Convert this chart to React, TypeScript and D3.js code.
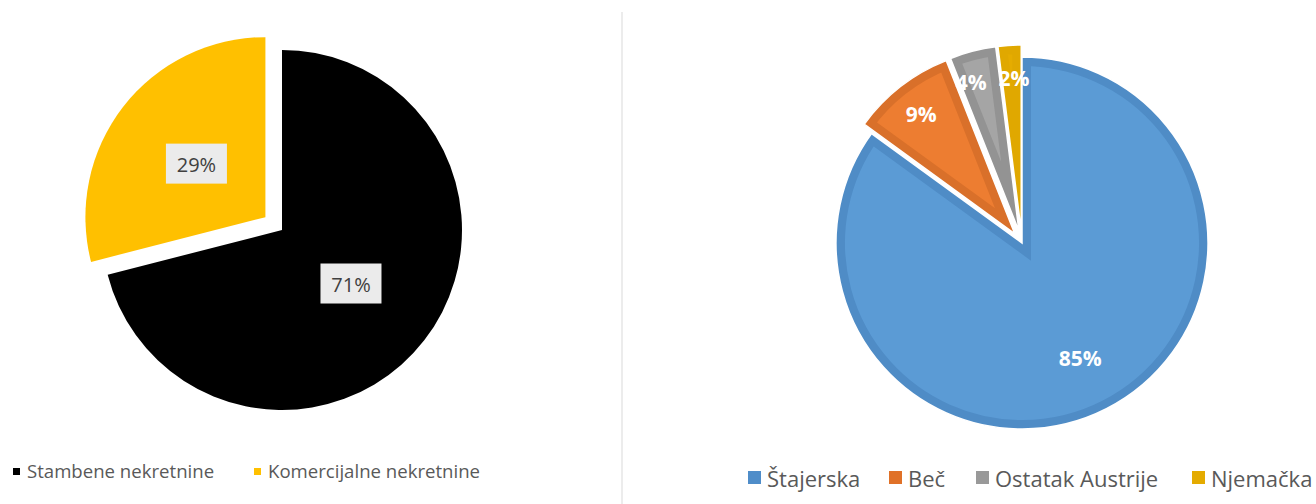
import React from "react";
import * as d3 from "d3";

const leftCategories = ["Stambene nekretnine", "Komercijalne nekretnine"];
const leftValues = [71, 29];
const leftColors = ["#000000", "#ffc000"];
const leftExplode = [0, 21];

const rightCategories = ["Štajerska", "Beč", "Ostatak Austrije", "Njemačka"];
const rightValues = [85, 9, 4, 2];
const rightColors = ["#5b9bd5", "#ed7d31", "#a5a5a5", "#e5ac00"];
const rightBorders = ["#4f8cc6", "#d9702a", "#939393", "#e0a800"];
const rightLegendColors = ["#4f8dc9", "#e07128", "#999999", "#e4ab00"];
const rightExplode = [0, 12, 12, 12];

const W = 1316;
const H = 504;
const FONT = "'Open Sans', 'Noto Sans', sans-serif";

function LeftPie() {
  const cx = 282, cy = 230, r = 180;
  const pie = d3.pie<number>().sort(null).value((d) => d);
  const arcs = pie(leftValues);
  const arc = d3.arc<d3.PieArcDatum<number>>().innerRadius(0).outerRadius(r);
  const labelR = r * 0.485;
  return (
    <g>
      {arcs.map((a, i) => {
        const mid = (a.startAngle + a.endAngle) / 2;
        const dx = Math.sin(mid) * leftExplode[i];
        const dy = -Math.cos(mid) * leftExplode[i];
        return (
          <path key={i} d={arc(a) || ""} fill={leftColors[i]} transform={`translate(${cx + dx},${cy + dy})`} />
        );
      })}
      {arcs.map((a, i) => {
        const mid = (a.startAngle + a.endAngle) / 2;
        const rr = labelR + leftExplode[i];
        const x = cx + Math.sin(mid) * rr;
        const y = cy - Math.cos(mid) * rr;
        return (
          <g key={"l" + i}>
            <rect x={x - 30.5} y={y - 20} width={61} height={40} fill="#ebebeb" />
            <text x={x} y={y + 1} textAnchor="middle" dominantBaseline="central" fontFamily={FONT} fontSize={20} fill="#404040">
              {leftValues[i] + "%"}
            </text>
          </g>
        );
      })}
    </g>
  );
}

function RightPie() {
  const cx = 1022, cy = 243, r = 186;
  const pie = d3.pie<number>().sort(null).value((d) => d);
  const arcs = pie(rightValues);
  const arc = d3.arc<d3.PieArcDatum<number>>().innerRadius(0).outerRadius(r);
  const labelFactor = [0.69, 0.82, 0.85, 0.83];
  const labelAngleShift = [0, 0, -3, 0.8];
  return (
    <g>
      <defs>
        {arcs.map((a, i) => (
          <clipPath id={"rc" + i} key={i}>
            <path d={arc(a) || ""} />
          </clipPath>
        ))}
      </defs>
      {arcs.map((a, i) => {
        const mid = (a.startAngle + a.endAngle) / 2;
        const dx = Math.sin(mid) * rightExplode[i];
        const dy = -Math.cos(mid) * rightExplode[i];
        return (
          <g key={i} transform={`translate(${cx + dx},${cy + dy})`}>
            <path
              d={arc(a) || ""}
              fill={rightColors[i]}
              stroke={rightBorders[i]}
              strokeWidth={18}
              clipPath={`url(#rc${i})`}
            />
            <path d={arc(a) || ""} fill="none" stroke="#ffffff" strokeWidth={1.5} />
          </g>
        );
      })}
      {arcs.map((a, i) => {
        const mid = (a.startAngle + a.endAngle) / 2 + (labelAngleShift[i] * Math.PI) / 180;
        const rr = r * labelFactor[i] + rightExplode[i];
        const x = cx + Math.sin(mid) * rr;
        const y = cy - Math.cos(mid) * rr;
        return (
          <text key={"t" + i} x={x} y={y + 1} textAnchor="middle" dominantBaseline="central" fontFamily={FONT} fontWeight={700} fontSize={21} fill="#ffffff">
            {rightValues[i] + "%"}
          </text>
        );
      })}
    </g>
  );
}

function LeftLegend() {
  const xs = [13, 254];
  return (
    <g>
      {leftCategories.map((c, i) => (
        <g key={i}>
          <rect x={xs[i]} y={468} width={7} height={7} fill={leftColors[i]} />
          <text x={xs[i] + 14} y={470.5} dominantBaseline="central" fontFamily={FONT} fontSize={18.6} fill="#595959">
            {c}
          </text>
        </g>
      ))}
    </g>
  );
}

function RightLegend() {
  const xs = [748, 889, 976, 1192];
  return (
    <g>
      {rightCategories.map((c, i) => (
        <g key={i}>
          <rect x={xs[i]} y={471} width={13} height={13} fill={rightLegendColors[i]} />
          <text x={xs[i] + 19} y={477.5} dominantBaseline="central" fontFamily={FONT} fontSize={22} fill="#595959">
            {c}
          </text>
        </g>
      ))}
    </g>
  );
}

export default function App() {
  return (
    <svg width={W} height={H} style={{ position: "absolute", left: 0, top: 0, background: "#ffffff" }}>
      <rect x={0} y={0} width={W} height={H} fill="#ffffff" />
      <line x1={622} x2={622} y1={12} y2={504} stroke="#d9d9d9" strokeWidth={1} />
      <LeftPie />
      <RightPie />
      <LeftLegend />
      <RightLegend />
    </svg>
  );
}
